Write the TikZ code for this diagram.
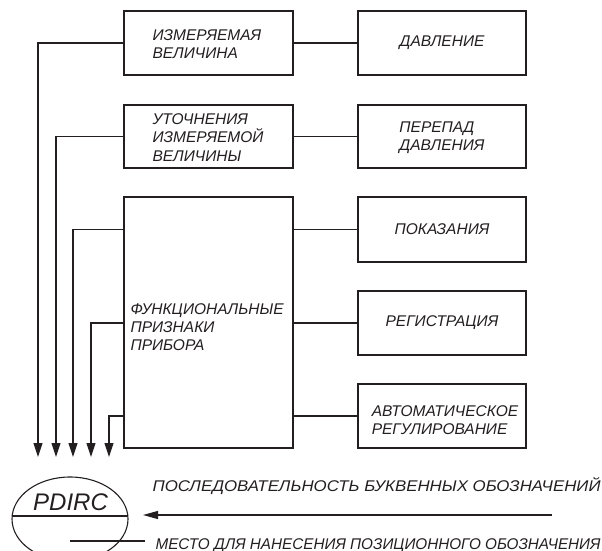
\documentclass[tikz,border=0pt]{standalone}
\usepackage{fontspec}
\setmainfont{Liberation Sans}
\usetikzlibrary{arrows.meta,shapes.geometric}
\definecolor{ink}{RGB}{35,31,32}
% set a line of text stretched horizontally to a given width (in pt)
\newsavebox\fitbox
\newcommand\fitwidth[2]{%
  \sbox\fitbox{#2}%
  \pgfmathsetmacro\fitfactor{#1/\the\wd\fitbox}%
  \scalebox{\fitfactor}[1]{\usebox\fitbox}}
\tikzset{
  box/.style={draw=ink, line width=1.1pt, inner sep=0pt, fill=white},
  lbl/.style={inner sep=0pt, text=ink, font=\fontsize{15.5}{18.2}\selectfont\itshape},
  note/.style={inner sep=0pt, text=ink, font=\fontsize{15.5}{18}\selectfont\itshape},
  tip/.style={-{Triangle[length=14pt,width=9pt]}},
}
\begin{document}
\begin{tikzpicture}[x=1pt, y=-1pt, line width=1.1pt, color=ink]
\useasboundingbox (0,0) rectangle (602,551);
\clip (0,0) rectangle (602,551);

% left column
\node[box, minimum width=169pt, minimum height=64pt]  (qty)  at (208.5,43) {};
\node[box, minimum width=169pt, minimum height=63pt]  (spec) at (208.5,136.5) {};
\node[box, minimum width=169pt, minimum height=251pt] (func) at (208.5,322.5) {};

% right column
\node[box, minimum width=168pt, minimum height=64pt] (press) at (442,43) {};
\node[box, minimum width=168pt, minimum height=63pt] (diff)  at (442,136.5) {};
\node[box, minimum width=168pt, minimum height=65pt] (ind)   at (442,229.5) {};
\node[box, minimum width=168pt, minimum height=64pt] (rec)   at (442,323) {};
\node[box, minimum width=168pt, minimum height=64pt] (ctrl)  at (442,416) {};

% labels
\node[lbl, anchor=west, align=left] (tqty)  at (152,44.5) {ИЗМЕРЯЕМАЯ\\ВЕЛИЧИНА};
\node[lbl, anchor=west, align=left] (tspec) at (152,137.5) {УТОЧНЕНИЯ\\ИЗМЕРЯЕМОЙ\\ВЕЛИЧИНЫ};
\node[lbl, anchor=west, align=left] (tfunc) at (130,327) {ФУНКЦИОНАЛЬНЫЕ\\ПРИЗНАКИ\\ПРИБОРА};
\node[lbl] (tpress) at (442,43) {ДАВЛЕНИЕ};
\node[lbl, align=left] (tdiff) at (442,138) {ПЕРЕПАД\\ДАВЛЕНИЯ};
\node[lbl] (tind) at (442,229) {ПОКАЗАНИЯ};
\node[lbl] (trec) at (442,322.5) {РЕГИСТРАЦИЯ};
\node[lbl, align=left] (tctrl) at (445,420) {АВТОМАТИЧЕСКОЕ\\РЕГУЛИРОВАНИЕ};

% horizontal links between columns
\draw (qty.east |- press) -- (press.west);
\draw (spec.east |- diff) -- (diff.west);
\draw (func.east |- ind) -- (ind.west);
\draw (func.east |- rec) -- (rec.west);
\draw (func.east |- ctrl) -- (ctrl.west);

% arrow ends above the symbol
\coordinate (e1) at (38,457);
\coordinate (e2) at (56,457);
\coordinate (e3) at (73,457);
\coordinate (e4) at (91,457);
\coordinate (e5) at (109,457);

\draw[tip] (qty.west |- press) -| (e1);
\draw[tip] (spec.west |- diff) -| (e2);
\draw[tip] (func.west |- ind) -| (e3);
\draw[tip] (func.west |- rec) -| (e4);
\draw[tip] (func.west |- ctrl) -| (e5);

% instrument symbol
\node[draw=ink, line width=1.1pt, ellipse, inner sep=0pt, minimum width=116pt, minimum height=84pt] (sym) at (70,519) {};
\begin{scope}
  \clip (70,519) ellipse [x radius=58, y radius=42];
  \draw (0,516) -- (140,516);
\end{scope}
\node[inner sep=0pt, text=ink, font=\fontsize{24}{24}\selectfont\itshape, anchor=base] (code) at (70.5,510) {PDIRC};

% explanatory notes
\node[note, anchor=base west] (seq) at (152,491) {\fitwidth{448}{ПОСЛЕДОВАТЕЛЬНОСТЬ БУКВЕННЫХ ОБОЗНАЧЕНИЙ}};
\node[note, anchor=base west] (pos) at (155,549) {\fitwidth{445}{МЕСТО ДЛЯ НАНЕСЕНИЯ ПОЗИЦИОННОГО ОБОЗНАЧЕНИЯ}};
\coordinate (seqstart) at (552,515);
\coordinate (seqtip) at (143,515);
\draw[-{Triangle[length=15pt,width=8pt]}] (seqstart) -- (seqtip);
\coordinate (posin) at (70,541);
\draw (posin) -- ([xshift=-10pt]pos.west |- posin);
\end{tikzpicture}
\end{document}
